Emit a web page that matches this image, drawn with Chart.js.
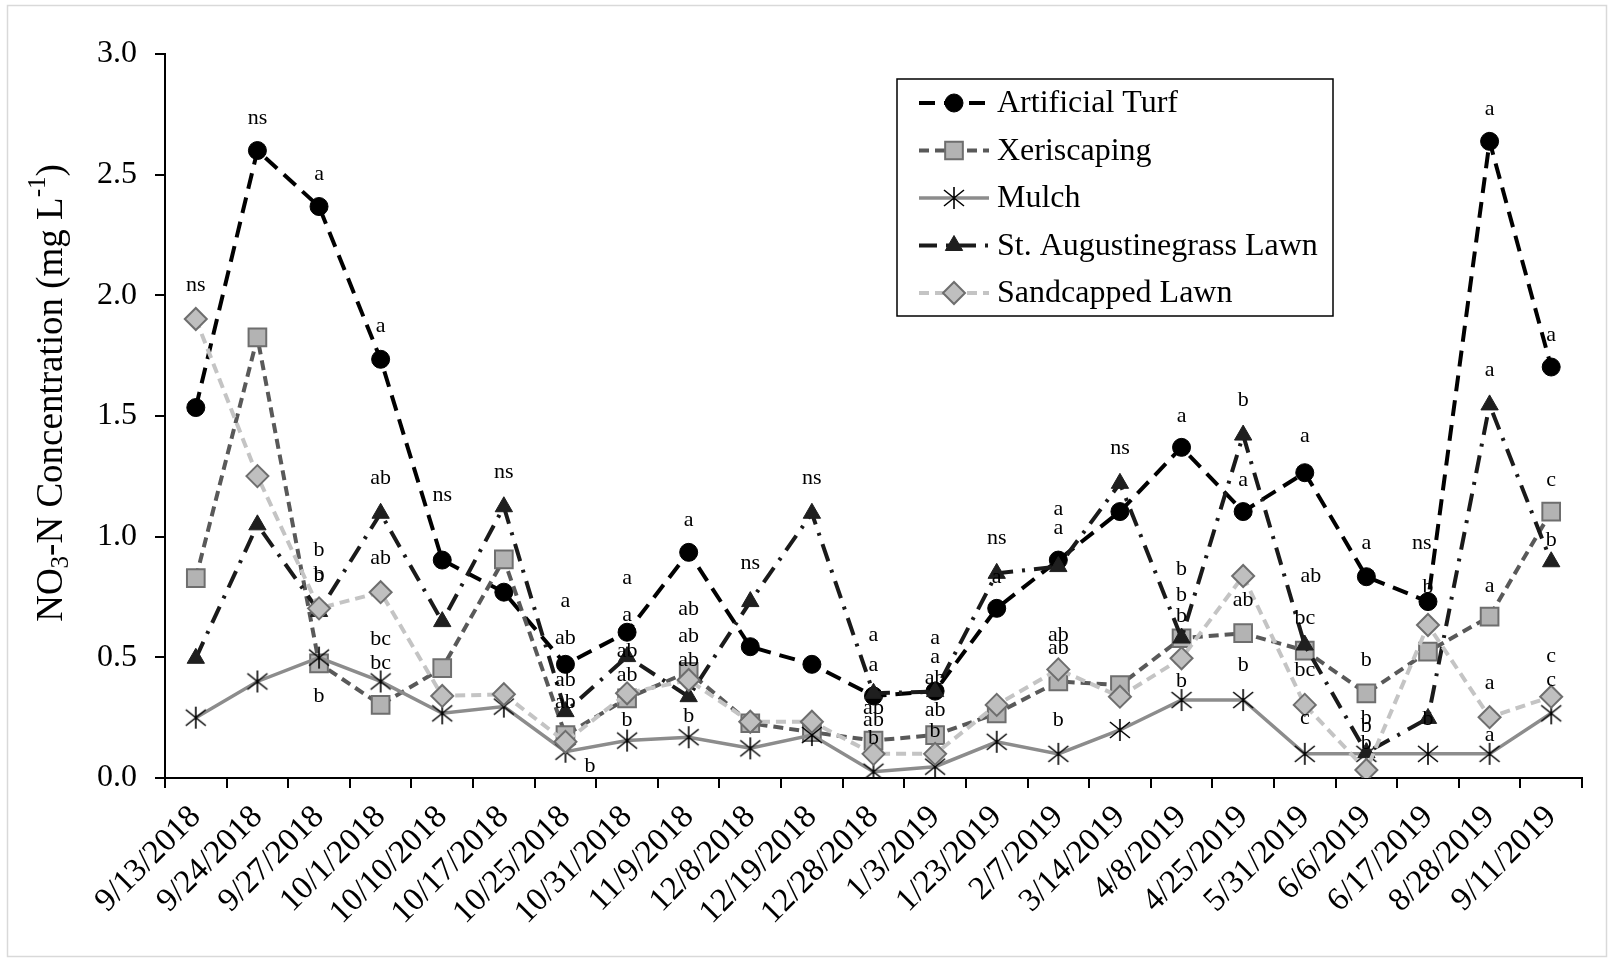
<!DOCTYPE html>
<html>
<head>
<meta charset="utf-8">
<script src="https://cdn.jsdelivr.net/npm/chart.js@4.4.1/dist/chart.umd.min.js"></script>
<style>
  body { margin: 0; background: #fff; }
  #wrap { width: 1614px; height: 962px; }
</style>
</head>
<body>
<div id="wrap"><canvas id="no3Chart" width="1614" height="962"></canvas></div>
<script>
var dates = ['9/13/2018', '9/24/2018', '9/27/2018', '10/1/2018', '10/10/2018', '10/17/2018',
  '10/25/2018', '10/31/2018', '11/9/2018', '12/8/2018', '12/19/2018', '12/28/2018',
  '1/3/2019', '1/23/2019', '2/7/2019', '3/14/2019', '4/8/2019', '4/25/2019',
  '5/31/2019', '6/6/2019', '6/17/2019', '8/28/2019', '9/11/2019'];

var turf = [1.535, 2.60, 2.368, 1.735, 0.903, 0.77, 0.471, 0.604, 0.935, 0.544, 0.471, 0.34,
  0.36, 0.703, 0.903, 1.104, 1.37, 1.104, 1.265, 0.834, 0.731, 2.638, 1.703];
var xeri = [0.828, 1.826, 0.475, 0.303, 0.455, 0.906, 0.178, 0.33, 0.44, 0.227, 0.19, 0.155,
  0.178, 0.268, 0.40, 0.385, 0.579, 0.60, 0.528, 0.351, 0.524, 0.669, 1.104];
var mulch = [0.25, 0.40, 0.499, 0.40, 0.268, 0.296, 0.109, 0.155, 0.169, 0.123, 0.178, 0.026,
  0.047, 0.15, 0.10, 0.199, 0.323, 0.323, 0.10, 0.10, 0.10, 0.10, 0.268];
var staug = [0.496, 1.049, 0.69, 1.097, 0.648, 1.124, 0.275, 0.503, 0.337, 0.731, 1.097, 0.351,
  0.358, 0.848, 0.876, 1.221, 0.58, 1.421, 0.551, 0.105, 0.247, 1.546, 0.896];
var sand = [1.902, 1.251, 0.703, 0.77, 0.34, 0.347, 0.15, 0.351, 0.406, 0.233, 0.233, 0.10,
  0.10, 0.303, 0.45, 0.337, 0.496, 0.837, 0.303, 0.033, 0.634, 0.252, 0.337];

var yTicks = [0, 0.5, 1.0, 1.5, 2.0, 2.5, 3.0];

// significance letters: [date index, y value, letter]
var sigLabels = [
  [0, 2.04, 'ns'],
  [1, 2.735, 'ns'],
  [2, 2.503, 'a'], [2, 0.945, 'b'], [2, 0.844, 'b'], [2, 0.836, 'b'], [2, 0.337, 'b'],
  [3, 1.87, 'a'], [3, 1.242, 'ab'], [3, 0.91, 'ab'], [3, 0.575, 'bc'], [3, 0.475, 'bc'],
  [4, 1.17, 'ns'],
  [5, 1.265, 'ns'],
  [6, 0.731, 'a'], [6, 0.579, 'ab'], [6, 0.406, 'ab'], [6, 0.316, 'ab'], [6.4, 0.047, 'b'],
  [7, 0.828, 'a'], [7, 0.675, 'a'], [7, 0.524, 'ab'], [7, 0.427, 'ab'], [7, 0.24, 'b'],
  [8, 1.069, 'a'], [8, 0.699, 'ab'], [8, 0.588, 'ab'], [8, 0.489, 'ab'], [8, 0.257, 'b'],
  [9, 0.892, 'ns'],
  [10, 1.242, 'ns'],
  [11, 0.593, 'a'], [11, 0.468, 'a'], [11, 0.289, 'ab'], [11, 0.24, 'ab'], [11, 0.165, 'b'],
  [12, 0.579, 'a'], [12, 0.499, 'a'], [12, 0.413, 'ab'], [12, 0.282, 'ab'], [12, 0.192, 'b'],
  [13, 0.993, 'ns'], [13, 0.834, 'a'],
  [14, 1.113, 'a'], [14, 1.035, 'a'], [14, 0.593, 'ab'], [14, 0.537, 'ab'], [14, 0.24, 'b'],
  [15, 1.366, 'ns'],
  [16, 1.50, 'a'], [16, 0.865, 'b'], [16, 0.758, 'b'], [16, 0.669, 'b'], [16, 0.40, 'b'],
  [17, 1.567, 'b'], [17, 1.235, 'a'], [17, 0.735, 'ab'], [17, 0.468, 'b'],
  [18, 1.417, 'a'], [18.1, 0.837, 'ab'], [18, 0.662, 'bc'], [18, 0.445, 'bc'], [18, 0.247, 'c'],
  [19, 0.973, 'a'], [19, 0.486, 'b'], [19, 0.247, 'b'], [19, 0.213, 'b'], [19, 0.144, 'b'],
  [19.9, 0.973, 'ns'], [20, 0.79, 'b'], [20, 0.243, 'b'],
  [21, 2.77, 'a'], [21, 1.691, 'a'], [21, 0.796, 'a'], [21, 0.392, 'a'], [21, 0.178, 'a'],
  [22, 1.836, 'a'], [22, 1.235, 'c'], [22, 0.986, 'b'], [22, 0.506, 'c'], [22, 0.406, 'c']
];

var SERIF = '"Liberation Serif", "Times New Roman", serif';

// six-armed asterisk marker for Mulch
var asterisk = document.createElement('canvas');
asterisk.width = 24;
asterisk.height = 24;
(function () {
  var c = asterisk.getContext('2d');
  c.strokeStyle = '#000';
  c.lineWidth = 1.6;
  c.beginPath();
  c.moveTo(12, 1); c.lineTo(12, 23);
  c.moveTo(2, 4); c.lineTo(22, 20);
  c.moveTo(22, 4); c.lineTo(2, 20);
  c.stroke();
})();

var datasets = [
  { label: 'Artificial Turf', data: turf, borderColor: '#000', backgroundColor: '#000',
    borderWidth: 4, borderDash: [16, 9], pointStyle: 'circle', pointRadius: 9,
    pointBackgroundColor: '#000', pointBorderColor: '#000', pointBorderWidth: 1, order: 5 },
  { label: 'Xeriscaping', data: xeri, borderColor: '#595959', backgroundColor: '#b3b3b3',
    borderWidth: 4, borderDash: [10, 6], pointStyle: 'rect', pointRadius: 12.5,
    pointBackgroundColor: '#b3b3b3', pointBorderColor: '#6e6e6e', pointBorderWidth: 2, order: 4 },
  { label: 'Mulch', data: mulch, borderColor: '#8c8c8c', backgroundColor: '#000',
    borderWidth: 3.5, borderDash: [], pointStyle: asterisk, pointRadius: 11,
    pointBorderWidth: 0, order: 3 },
  { label: 'St. Augustinegrass Lawn', data: staug, borderColor: '#1a1a1a', backgroundColor: '#1f1f1f',
    borderWidth: 4, borderDash: [18, 9, 3, 9], pointStyle: 'triangle', pointRadius: 10,
    pointBackgroundColor: '#1f1f1f', pointBorderColor: '#1f1f1f', pointBorderWidth: 1, order: 2 },
  { label: 'Sandcapped Lawn', data: sand, borderColor: '#c4c4c4', backgroundColor: '#bfbfbf',
    borderWidth: 4, borderDash: [10, 6], pointStyle: 'rectRot', pointRadius: 11,
    pointBackgroundColor: '#bfbfbf', pointBorderColor: '#6e6e6e', pointBorderWidth: 2, order: 1 }
];
datasets.forEach(function (d) {
  d.fill = false;
  d.tension = 0;
  d.pointHoverRadius = d.pointRadius;
});

var framePlugin = {
  id: 'frame',
  beforeDraw: function (chart) {
    var ctx = chart.ctx;
    ctx.save();
    ctx.fillStyle = '#fff';
    ctx.fillRect(0, 0, chart.width, chart.height);
    ctx.strokeStyle = '#d9d9d9';
    ctx.lineWidth = 1.5;
    ctx.strokeRect(7.5, 5.5, 1599, 951);
    ctx.restore();
  }
};

var lettersPlugin = {
  id: 'sigLetters',
  afterDatasetsDraw: function (chart) {
    var ctx = chart.ctx, xs = chart.scales.x, ys = chart.scales.y;
    ctx.save();
    ctx.font = '22px ' + SERIF;
    ctx.fillStyle = '#000';
    ctx.textAlign = 'center';
    ctx.textBaseline = 'middle';
    sigLabels.forEach(function (s) {
      ctx.fillText(s[2], xs.getPixelForValue(s[0]), ys.getPixelForValue(s[1]));
    });
    ctx.restore();
  }
};

var legendPlugin = {
  id: 'boxLegend',
  afterDraw: function (chart) {
    var ctx = chart.ctx;
    var box = { x: 897, y: 79, w: 436, h: 237 };
    ctx.save();
    ctx.fillStyle = '#fff';
    ctx.fillRect(box.x, box.y, box.w, box.h);
    ctx.strokeStyle = '#000';
    ctx.lineWidth = 1.5;
    ctx.strokeRect(box.x, box.y, box.w, box.h);
    chart.data.datasets.forEach(function (d, i) {
      var y = box.y + 24 + i * 47.5;
      ctx.save();
      ctx.strokeStyle = d.borderColor;
      ctx.lineWidth = d.borderWidth;
      ctx.setLineDash(d.borderDash || []);
      ctx.beginPath();
      ctx.moveTo(919, y);
      ctx.lineTo(989, y);
      ctx.stroke();
      ctx.setLineDash([]);
      ctx.fillStyle = d.pointBackgroundColor || '#000';
      ctx.strokeStyle = d.pointBorderColor || '#000';
      ctx.lineWidth = d.pointBorderWidth;
      Chart.helpers.drawPoint(ctx, {
        pointStyle: d.pointStyle, radius: d.pointRadius, rotation: 0,
        borderWidth: d.pointBorderWidth
      }, 954, y);
      ctx.restore();
      ctx.fillStyle = '#000';
      ctx.font = '32px ' + SERIF;
      ctx.textAlign = 'left';
      ctx.textBaseline = 'middle';
      ctx.fillText(d.label, 997, y + 1);
    });
    ctx.restore();
  }
};

var yTitlePlugin = {
  id: 'yTitle',
  afterDraw: function (chart) {
    var ctx = chart.ctx;
    var big = '37px ' + SERIF, small = '25px ' + SERIF;
    var parts = [
      ['NO', big, 0], ['3', small, 9], ['-N Concentration (mg L', big, 0],
      ['-1', small, -14], [')', big, 0]
    ];
    ctx.save();
    var total = 0;
    parts.forEach(function (p) { ctx.font = p[1]; total += ctx.measureText(p[0]).width; });
    ctx.translate(52, 393);
    ctx.rotate(-Math.PI / 2);
    ctx.fillStyle = '#000';
    ctx.textBaseline = 'middle';
    ctx.textAlign = 'left';
    var x = -total / 2;
    parts.forEach(function (p) {
      ctx.font = p[1];
      ctx.fillText(p[0], x, p[2]);
      x += ctx.measureText(p[0]).width;
    });
    ctx.restore();
  }
};

new Chart(document.getElementById('no3Chart').getContext('2d'), {
  type: 'line',
  data: { labels: dates, datasets: datasets },
  options: {
    responsive: false,
    animation: false,
    devicePixelRatio: 1,
    layout: { padding: { top: 54, right: 32, bottom: 0, left: 0 } },
    plugins: { legend: { display: false }, tooltip: { enabled: false } },
    scales: {
      x: {
        offset: true,
        grid: { offset: true, drawOnChartArea: false, drawTicks: true, tickLength: 10,
          color: '#000', lineWidth: 2 },
        border: { color: '#000', width: 2 },
        ticks: { color: '#000', font: { family: SERIF, size: 33 }, maxRotation: 45,
          minRotation: 45, autoSkip: false, padding: 10 },
        afterFit: function (scale) { scale.height = 184; }
      },
      y: {
        min: 0,
        max: 3,
        afterBuildTicks: function (scale) {
          scale.ticks = yTicks.map(function (v) { return { value: v }; });
        },
        grid: { drawOnChartArea: false, drawTicks: true, tickLength: 10, color: '#000', lineWidth: 2 },
        border: { color: '#000', width: 2 },
        ticks: { color: '#000', font: { family: SERIF, size: 32 }, padding: 18,
          callback: function (v) { return Number(v).toFixed(1); } },
        afterFit: function (scale) { scale.width = 165; }
      }
    }
  },
  plugins: [framePlugin, lettersPlugin, legendPlugin, yTitlePlugin]
});
</script>
</body>
</html>
